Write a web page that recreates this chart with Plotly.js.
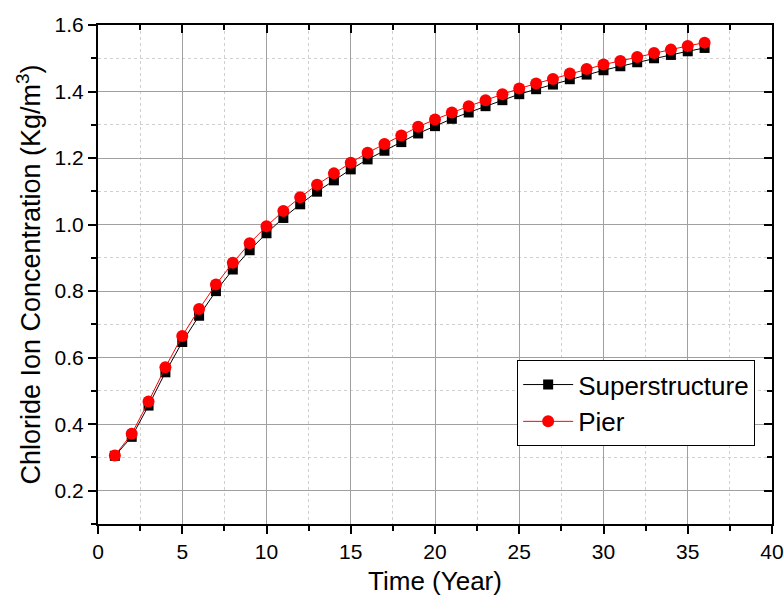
<!DOCTYPE html>
<html>
<head>
<meta charset="utf-8">
<script src="https://cdn.plot.ly/plotly-3.0.1.min.js"></script>
<style>html,body{margin:0;padding:0;background:#fff;}#chart{width:784px;height:601px;}</style>
</head>
<body>
<div id="chart"></div>
<script>
const years = [1,2,3,4,5,6,7,8,9,10,11,12,13,14,15,16,17,18,19,20,21,22,23,24,25,26,27,28,29,30,31,32,33,34,35,36];
const superstructure = [0.305,0.362,0.456,0.556,0.647,0.726,0.800,0.865,0.923,0.974,1.020,1.061,1.099,1.133,1.166,1.196,1.222,1.248,1.274,1.296,1.318,1.337,1.356,1.374,1.392,1.407,1.421,1.437,1.451,1.464,1.476,1.488,1.500,1.510,1.521,1.531];
const pier = [0.306,0.371,0.468,0.571,0.665,0.746,0.820,0.885,0.944,0.995,1.041,1.082,1.120,1.154,1.186,1.216,1.242,1.268,1.294,1.316,1.337,1.356,1.374,1.392,1.409,1.424,1.438,1.454,1.468,1.481,1.492,1.504,1.516,1.526,1.537,1.547];
const seriesNames = ['Superstructure','Pier'];
const xTitle = 'Time (Year)';
const yTitle = 'Chloride Ion Concentration (Kg/m<sup>3</sup>)';

const font = 'Liberation Sans';
const traces = [
  {x: years, y: superstructure, name: seriesNames[0], type: 'scatter', mode: 'lines+markers',
   line: {color: '#000', width: 1}, marker: {symbol: 'square', size: 10, color: '#000'}},
  {x: years, y: pier, name: seriesNames[1], type: 'scatter', mode: 'lines+markers',
   line: {color: '#ff0000', width: 1}, marker: {symbol: 'circle', size: 12, color: '#ff0000'}}
];
const commonAxis = {
  showline: true, linecolor: '#000', linewidth: 2, zeroline: false,
  tickcolor: '#000', tickwidth: 2, ticklen: 8,
  tickfont: {family: font, size: 21, color: '#000'}
};
const layout = {
  width: 784, height: 601,
  margin: {l: 98, r: 12, t: 25, b: 77},
  paper_bgcolor: '#fff', plot_bgcolor: '#fff',
  font: {family: font, color: '#000'},
  xaxis: Object.assign({}, commonAxis, {
    range: [0, 40], dtick: 5, tick0: 0, ticks: 'outside',
    showgrid: true, gridcolor: '#a0a0a0', gridwidth: 1,
    minor: {dtick: 2.5, showgrid: true, gridcolor: '#d0d0d0', griddash: 'dot', ticks: 'outside', ticklen: 5, tickcolor: '#000', tickwidth: 2},
    title: {text: xTitle, font: {family: font, size: 26, color: '#000'}, standoff: 10}
  }),
  yaxis: Object.assign({}, commonAxis, {
    range: [0.1, 1.6], dtick: 0.2, tick0: 0, ticks: 'outside', tickformat: '.1f',
    showgrid: true, gridcolor: '#a0a0a0', gridwidth: 1,
    minor: {dtick: 0.1, tick0: 0.1, showgrid: true, gridcolor: '#d0d0d0', griddash: 'dot', ticks: 'outside', ticklen: 5, tickcolor: '#000', tickwidth: 2},
    title: {text: yTitle, font: {family: font, size: 27, color: '#000'}, standoff: 6}
  }),
  xaxis2: Object.assign({}, commonAxis, {
    overlaying: 'x', side: 'top', range: [0, 40], dtick: 5, tick0: 0, ticks: 'inside',
    showticklabels: false, showgrid: false,
    minor: {dtick: 2.5, ticks: 'inside', ticklen: 5, tickcolor: '#000', tickwidth: 2, showgrid: false}
  }),
  yaxis2: Object.assign({}, commonAxis, {
    overlaying: 'y', side: 'right', range: [0.1, 1.6], dtick: 0.2, tick0: 0, ticks: 'inside',
    showticklabels: false, showgrid: false,
    minor: {dtick: 0.1, tick0: 0.1, ticks: 'inside', ticklen: 5, tickcolor: '#000', tickwidth: 2, showgrid: false}
  }),
  showlegend: true,
  legend: {
    x: 0.975, xanchor: 'right', y: 0.156, yanchor: 'bottom',
    bgcolor: '#fff', bordercolor: '#000', borderwidth: 1,
    font: {family: font, size: 26, color: '#000'},
    itemwidth: 50, tracegroupgap: 0
  }
};
traces.push({x: [0], y: [0.1], xaxis: 'x2', yaxis: 'y2', mode: 'markers', marker: {opacity: 0}, showlegend: false, hoverinfo: 'skip'});
Plotly.newPlot('chart', traces, layout, {displayModeBar: false, staticPlot: true});
</script>
</body>
</html>
